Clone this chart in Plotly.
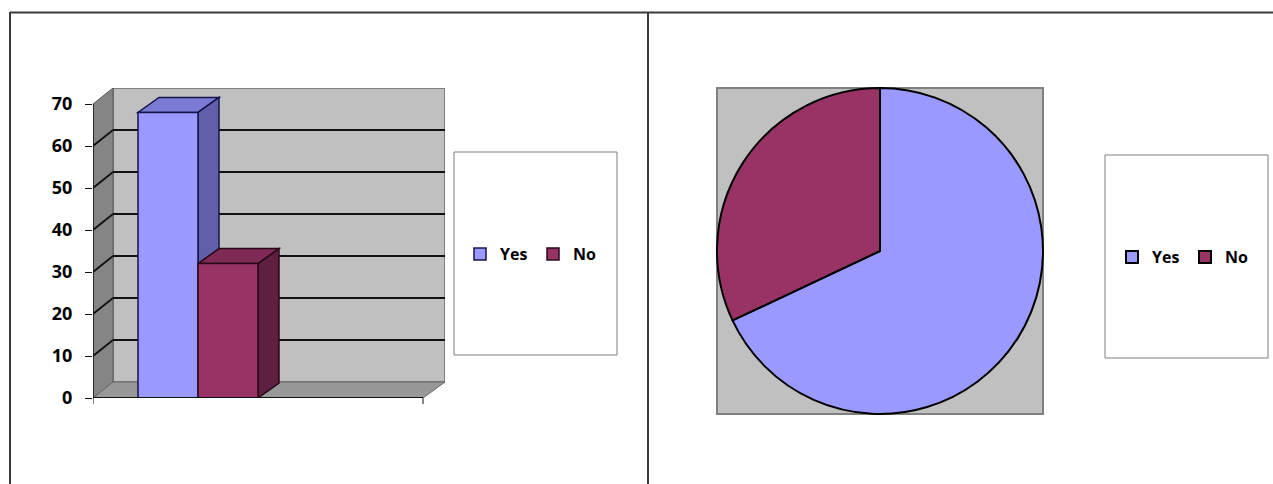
import plotly.graph_objects as go

# ---------------- data ----------------
categories = ["Yes", "No"]
bar_values = [68, 32]
pie_labels = ["Yes", "No"]
pie_values = [68, 32]
y_ticks = [0, 10, 20, 30, 40, 50, 60, 70]

# ---------------- styles / geometry ----------------
W, H = 1273, 484
FONT = "Open Sans"
front_colors = ["#9999FF", "#993366"]
top_colors = ["#7B7BD6", "#7E2A55"]
side_colors = ["#5F5FAA", "#5E1F40"]
edge_colors = ["#14144A", "#2A0818"]

PX_PER_UNIT = 4.2           # vertical pixels per value unit
AX_LEFT_PX, AX_RIGHT_PX = 93, 445
Y0_PX, YTOP_PX = 398, 88
FRONT_LEN = 330             # length of front floor edge (x units == px)
WALL_DX = 20
WALL_DY = 16 / PX_PER_UNIT
BAR_DX = 21
BAR_DY = 15 / PX_PER_UNIT
BAR_LEFT0 = 45
BAR_W = 60
y_max = (Y0_PX - YTOP_PX) / PX_PER_UNIT
x_max = AX_RIGHT_PX - AX_LEFT_PX


def px(x):
    return x / W


def py(y):
    return 1 - y / H


def poly(points):
    return "M " + " L ".join(f"{a},{b}" for a, b in points) + " Z"


fig = go.Figure()

# front faces of the 3D columns (one trace per series for the legend)
for i, (cat, val) in enumerate(zip(categories, bar_values)):
    left = BAR_LEFT0 + i * BAR_W
    fig.add_trace(go.Bar(
        x=[left + BAR_W / 2], y=[val], width=BAR_W, name=cat,
        marker=dict(color=front_colors[i], line=dict(color=edge_colors[i], width=1.5)),
        legend="legend", xaxis="x", yaxis="y",
        hovertemplate=f"{cat}: %{{y}}<extra></extra>",
    ))

# pie
fig.add_trace(go.Pie(
    labels=pie_labels, values=pie_values, sort=False, direction="clockwise",
    rotation=0, textinfo="none", legend="legend2",
    marker=dict(colors=front_colors, line=dict(color="#000000", width=2)),
    domain=dict(x=[px(717), px(1043)], y=[py(414), py(88)]),
    hovertemplate="%{label}: %{value}<extra></extra>",
))

shapes = []
# outer frames
line_col = "#3a3a3a"
shapes.append(dict(type="line", xref="paper", yref="paper", x0=px(10), x1=1, y0=py(12.5), y1=py(12.5),
                   line=dict(color=line_col, width=2)))
shapes.append(dict(type="line", xref="paper", yref="paper", x0=px(10), x1=px(10), y0=py(12), y1=0,
                   line=dict(color=line_col, width=2)))
shapes.append(dict(type="line", xref="paper", yref="paper", x0=px(648), x1=px(648), y0=py(12), y1=0,
                   line=dict(color=line_col, width=2)))
# legend boxes
shapes.append(dict(type="rect", xref="paper", yref="paper", x0=px(454), x1=px(617), y0=py(355), y1=py(152),
                   line=dict(color="#7f7f7f", width=1), fillcolor="white"))
shapes.append(dict(type="rect", xref="paper", yref="paper", x0=px(1105), x1=px(1268), y0=py(358), y1=py(155),
                   line=dict(color="#7f7f7f", width=1), fillcolor="white"))
# pie plot area
shapes.append(dict(type="rect", xref="paper", yref="paper", x0=px(717), x1=px(1043), y0=py(414), y1=py(88),
                   line=dict(color="#808080", width=2), fillcolor="#C0C0C0", layer="below"))

# 3D walls of the column chart (data coordinates)
top_val = y_ticks[-1]
shapes.append(dict(type="path", xref="x", yref="y", layer="below",
                   path=poly([(WALL_DX, WALL_DY), (x_max, WALL_DY), (x_max, top_val + WALL_DY), (WALL_DX, top_val + WALL_DY)]),
                   fillcolor="#C0C0C0", line=dict(color="#6a6a6a", width=1.5)))
shapes.append(dict(type="path", xref="x", yref="y", layer="below",
                   path=poly([(0, 0), (WALL_DX, WALL_DY), (WALL_DX, top_val + WALL_DY), (0, top_val)]),
                   fillcolor="#858585", line=dict(color="#5a5a5a", width=1)))
shapes.append(dict(type="path", xref="x", yref="y", layer="below",
                   path=poly([(0, 0), (FRONT_LEN, 0), (x_max, WALL_DY), (WALL_DX, WALL_DY)]),
                   fillcolor="#989898", line=dict(color="#6a6a6a", width=1)))
# gridlines on back wall and side wall
for v in y_ticks[1:-1]:
    shapes.append(dict(type="line", xref="x", yref="y", layer="below",
                       x0=WALL_DX, x1=x_max, y0=v + WALL_DY, y1=v + WALL_DY,
                       line=dict(color="#111111", width=2.2)))
    shapes.append(dict(type="line", xref="x", yref="y", layer="below",
                       x0=0, x1=WALL_DX, y0=v, y1=v + WALL_DY,
                       line=dict(color="#111111", width=1.8)))

# depth faces of the columns (computed from the values)
for i, val in enumerate(bar_values):
    left = BAR_LEFT0 + i * BAR_W
    right = left + BAR_W
    shapes.append(dict(type="path", xref="x", yref="y", layer="below",
                       path=poly([(left, val), (right, val), (right + BAR_DX, val + BAR_DY), (left + BAR_DX, val + BAR_DY)]),
                       fillcolor=top_colors[i], line=dict(color=edge_colors[i], width=1.5)))
    shapes.append(dict(type="path", xref="x", yref="y", layer="below",
                       path=poly([(right, 0), (right + BAR_DX, BAR_DY), (right + BAR_DX, val + BAR_DY), (right, val)]),
                       fillcolor=side_colors[i], line=dict(color=edge_colors[i], width=1.5)))

# front axis lines and category ticks
shapes.append(dict(type="line", xref="x", yref="y", x0=0, x1=FRONT_LEN, y0=0, y1=0,
                   line=dict(color="#111111", width=2)))
shapes.append(dict(type="line", xref="x", yref="y", x0=0, x1=0, y0=0, y1=top_val,
                   line=dict(color="#111111", width=1.5)))
shapes.append(dict(type="line", xref="x", yref="paper", x0=FRONT_LEN, x1=FRONT_LEN, y0=py(398), y1=py(404),
                   line=dict(color="#111111", width=1)))
shapes.append(dict(type="line", xref="x", yref="paper", x0=0, x1=0, y0=py(398), y1=py(404),
                   line=dict(color="#111111", width=1)))

legend_common = dict(orientation="h", xanchor="center", yanchor="middle",
                     bgcolor="rgba(0,0,0,0)", borderwidth=0,
                     font=dict(family=FONT, size=16, color="#000000", weight="bold"),
                     traceorder="normal", entrywidth=28, entrywidthmode="pixels")

fig.update_layout(
    width=W, height=H, autosize=False,
    margin=dict(l=0, r=0, t=0, b=0, pad=0, autoexpand=False),
    paper_bgcolor="white", plot_bgcolor="rgba(0,0,0,0)",
    barmode="overlay", showlegend=True,
    xaxis=dict(domain=[px(AX_LEFT_PX), px(AX_RIGHT_PX)], range=[0, x_max], automargin=False,
               showgrid=False, zeroline=False, showticklabels=False, showline=False, fixedrange=True),
    yaxis=dict(domain=[py(Y0_PX), py(YTOP_PX)], range=[0, y_max], automargin=False,
               tickvals=y_ticks, ticks="outside", ticklen=7, tickwidth=1, tickcolor="#111111",
               ticklabelstandoff=9,
               tickfont=dict(family=FONT, size=18, color="#000000", weight="bold"),
               showgrid=False, zeroline=False, showline=False, fixedrange=True),
    legend=dict(x=px(533), y=py(254), **legend_common),
    legend2=dict(x=px(1185), y=py(257), **legend_common),
    shapes=shapes,
)

fig.write_html("out.html", config={"responsive": False})
